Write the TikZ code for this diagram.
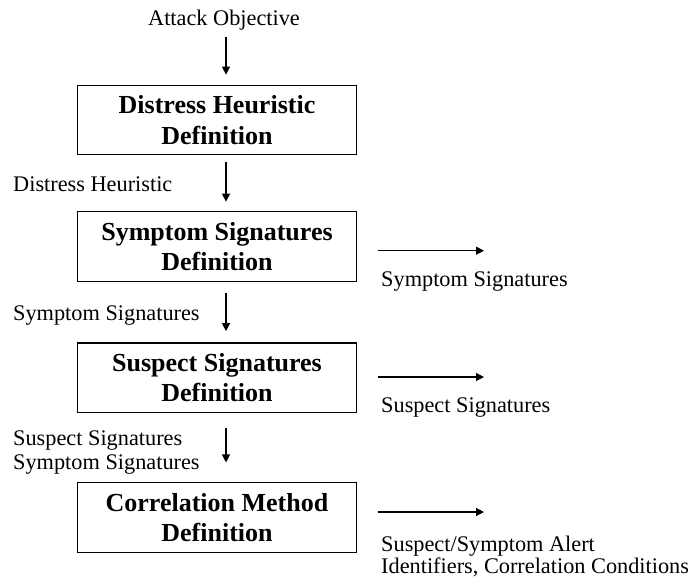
\documentclass[tikz,border=0pt]{standalone}
\usepackage{fontspec}
\setmainfont{Liberation Serif}
\usetikzlibrary{arrows.meta}
\begin{document}
\begin{tikzpicture}[x=1pt,y=-1pt,
  stagebox/.style={draw, line width=1.1pt, minimum width=279.4pt, minimum height=69.6pt,
    align=center, inner sep=0pt, font=\fontsize{26}{30.5}\selectfont\bfseries},
  lbl/.style={inner sep=0pt, font=\fontsize{22.3}{23.3}\selectfont},
  outlbl/.style={inner sep=0pt, align=left, font=\fontsize{22.3}{21.7}\selectfont},
  flow/.style={line width=1.1pt, -{Triangle[length=8pt,width=8pt]}}]
\useasboundingbox (0,0) rectangle (695,586);

% stages of the definition process
\node[stagebox] (b1) at (217,120)   {Distress Heuristic\\Definition};
\node[stagebox] (b2) at (217,246.7) {Symptom Signatures\\Definition};
\node[stagebox] (b3) at (217,377.8) {Suspect Signatures\\Definition};
\node[stagebox] (b4) at (217,517.5) {Correlation Method\\Definition};

% inputs on the left / top
\node[lbl, anchor=base] (obj) at (224,26) {Attack Objective};
\node[lbl, anchor=base west] (in2) at (13,191.7) {Distress Heuristic};
\node[lbl, anchor=base west] (in3) at (13,320) {Symptom Signatures};
\node[lbl, align=left, anchor=west] (in4) at (13,452.5) {Suspect Signatures\\Symptom Signatures};

% outputs on the right
\node[lbl, anchor=base west] (out2) at (381,286) {Symptom Signatures};
\node[lbl, anchor=base west] (out3) at (381,412) {Suspect Signatures};
\node[outlbl, anchor=west] (out4) at (381,556.4) {Suspect/Symptom Alert\\Identifiers, Correlation Conditions};

% vertical flow
\coordinate (ax) at (226,0);
\draw[flow, shorten <=6,    shorten >=10]   (obj.south -| ax) -- (b1.north -| ax);
\draw[flow, shorten <=7,    shorten >=9.7]  (b1.south -| ax)  -- (b2.north -| ax);
\draw[flow, shorten <=11.3, shorten >=11.3] (b2.south -| ax)  -- (b3.north -| ax);
\draw[flow, shorten <=14.7, shorten >=19.7] (b3.south -| ax)  -- (b4.north -| ax);

% output arrows
\coordinate (o2) at (484,250.7);
\coordinate (o3) at (484,377);
\coordinate (o4) at (484,512);
\draw[flow, shorten <=20.3] (b2.east |- o2) -- (o2);
\draw[flow, shorten <=20.3] (b3.east |- o3) -- (o3);
\draw[flow, shorten <=20.3] (b4.east |- o4) -- (o4);
\end{tikzpicture}
\end{document}
